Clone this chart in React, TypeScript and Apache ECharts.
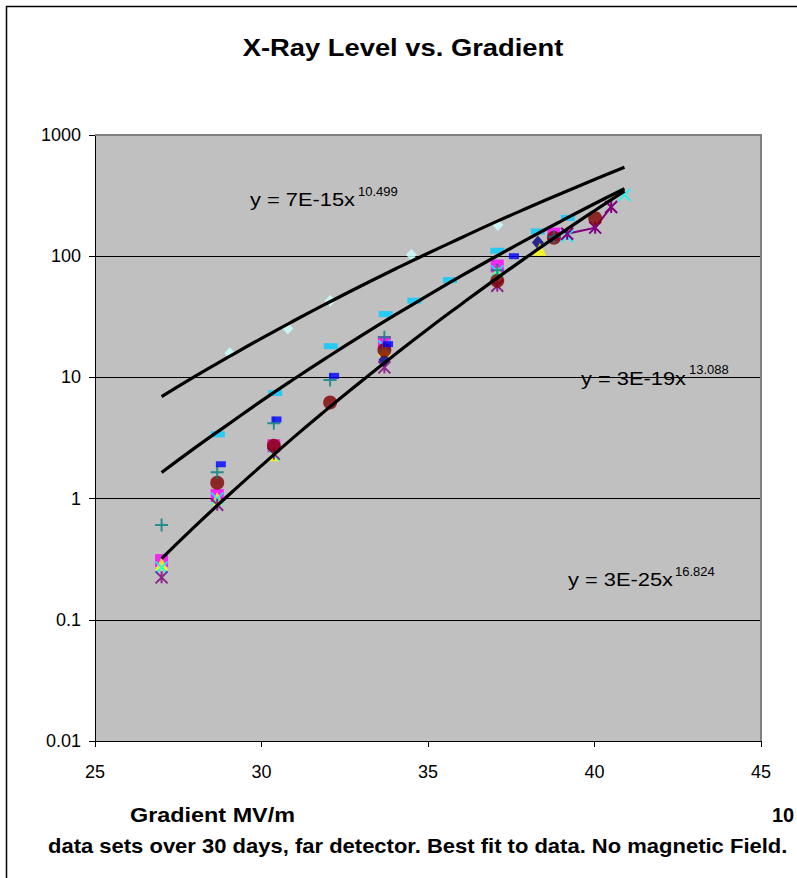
import React, { useEffect, useRef } from "react";
import * as echarts from "echarts";

// ---- data ----
const yTickLabels = ["0.01", "0.1", "1", "10", "100", "1000"];
const xTicks = [25, 30, 35, 40, 45];

// best-fit power-law curves
const fitX = [27, 28, 29, 30, 31, 32, 33, 34, 35, 36, 37, 38, 39, 40, 40.9];
const fitA = [6.94, 10.2, 14.7, 21.0, 29.6, 41.3, 57.1, 78.0, 105.8, 142, 190, 251, 329, 430, 543];
const fitB = [1.64, 2.62, 4.1, 6.4, 9.8, 14.8, 22.1, 32.6, 47.5, 68.7, 98, 139, 195, 271, 360];
const fitC = [0.32, 0.59, 1.06, 1.87, 3.26, 5.55, 9.3, 15.4, 25.1, 40.2, 63.8, 100, 155, 237, 344];

const navyDiamond = [[33.69, 13.9], [38.3, 130]];
const magentaSquare = [[27.0, 0.308], [28.67, 1.06], [30.37, 2.73], [33.69, 19.4], [37.08, 83], [38.78, 152]];
const yellowTriangle = [[27.0, 0.29], [28.67, 1.0], [30.37, 2.3], [33.69, 17], [37.08, 74], [38.36, 114]];
const cyanX = [[27.0, 0.27], [28.67, 1.0], [30.37, 2.3], [33.69, 18], [37.08, 75], [39.18, 147], [40.9, 320]];
const purpleStar = [[27.0, 0.224], [28.67, 0.89], [30.37, 2.35], [33.69, 12.1], [37.08, 57]];
const purpleStarLine = [[39.18, 153], [40.02, 172], [40.5, 255]];
const darkRedCircle = [[28.67, 1.35], [30.37, 2.73], [32.06, 6.2], [33.69, 16.8], [37.08, 62.7], [38.78, 142], [40.02, 206]];
const tealPlus = [[27.0, 0.607], [28.67, 1.65], [30.37, 4.18], [32.06, 9.5], [33.69, 21.4], [37.08, 76.4], [38.78, 145]];
const blueRect = [[28.78, 1.92], [30.45, 4.5], [32.18, 10.3], [33.8, 18.8], [37.58, 100]];
const skyDash = [[28.69, 3.39], [30.41, 7.43], [32.08, 18.1], [33.73, 33.3], [34.59, 42.9], [35.66, 63.5], [37.08, 111], [38.3, 160], [39.2, 207]];
const turqDiamond = [[29.05, 15.8], [30.79, 25.3], [32.06, 42.9], [34.5, 103], [37.1, 181]];

const X_PATH = "path://M0,0L10,10M10,0L0,10";
const STAR_PATH = "path://M0,0L10,10M10,0L0,10M5,0L5,10";
const PLUS_PATH = "path://M5,0L5,10M0,5L10,5";

const FONT = "'Liberation Sans', Arial, sans-serif";

const W = 797;
const H = 878;
const PL = 95, PR = 761, PT = 135, PB = 741;

function scatter(name: string, data: number[][], symbol: string, size: any, color: string, stroke: boolean) {
  return {
    name,
    type: "scatter",
    data,
    symbol,
    symbolSize: size,
    itemStyle: stroke
      ? { color: color, borderColor: color, borderWidth: 2 }
      : { color: color, borderWidth: 0 },
    z: 3,
  };
}

function fitSeries(vals: number[]) {
  return {
    type: "line",
    data: fitX.map((x, i) => [x, vals[i]]),
    smooth: true,
    showSymbol: false,
    symbol: "none",
    lineStyle: { color: "#000", width: 3.2 },
    z: 10,
  };
}

function txt(text: string, x: number, y: number, fontSize: number, bold: boolean, scaleX = 1, align = "left") {
  return {
    type: "text",
    x,
    y,
    scaleX,
    z: 200,
    silent: true,
    style: {
      text,
      fill: "#000",
      font: `${bold ? "bold " : ""}${fontSize}px ${FONT}`,
      align,
      verticalAlign: "middle",
    },
  };
}

export default function App() {
  const ref = useRef<HTMLDivElement>(null);
  useEffect(() => {
    if (!ref.current) return;
    const chart = echarts.init(ref.current, undefined, { renderer: "svg" });
    chart.setOption({
      animation: false,
      backgroundColor: "#fff",
      grid: {
        left: PL,
        right: W - PR,
        top: PT,
        bottom: H - PB,
        show: true,
        backgroundColor: "#C0C0C0",
        borderWidth: 0,
      },
      xAxis: {
        type: "value",
        min: xTicks[0],
        max: xTicks[xTicks.length - 1],
        interval: 5,
        axisLine: { show: true, onZero: false, lineStyle: { color: "#000", width: 1 } },
        axisTick: { show: true, length: 6, lineStyle: { color: "#000" } },
        axisLabel: { color: "#000", fontSize: 18, fontFamily: FONT, margin: 22 },
        splitLine: { show: false },
      },
      yAxis: {
        type: "log",
        logBase: 10,
        min: 0.01,
        max: 1000,
        axisLine: { show: true, lineStyle: { color: "#000", width: 1 } },
        axisTick: { show: true, length: 6, lineStyle: { color: "#000" } },
        axisLabel: {
          color: "#000",
          fontSize: 18,
          fontFamily: FONT,
          margin: 14,
          formatter: (v: number) => yTickLabels[Math.round(Math.log10(v)) + 2],
        },
        splitLine: { show: true, lineStyle: { color: "#000", width: 1 } },
      },
      series: [
        scatter("s1", navyDiamond, "diamond", [12, 14], "#000080", false),
        scatter("s2", magentaSquare, "rect", 13, "#FF00FF", false),
        scatter("s3", yellowTriangle, "triangle", 13, "#FFFF00", false),
        scatter("s4", cyanX, X_PATH, 12, "#00FFFF", true),
        scatter("s5", purpleStar, STAR_PATH, 12, "#800080", true),
        {
          name: "s5b",
          type: "line",
          data: purpleStarLine,
          symbol: STAR_PATH,
          symbolSize: 12,
          showSymbol: true,
          lineStyle: { color: "#800080", width: 2 },
          itemStyle: { color: "#800080", borderColor: "#800080", borderWidth: 2 },
          z: 3,
        },
        scatter("s6", darkRedCircle, "circle", 14, "#800000", false),
        scatter("s7", tealPlus, PLUS_PATH, 13, "#008080", true),
        scatter("s8", blueRect, "rect", [10, 6], "#0000FF", false),
        scatter("s9", skyDash, "rect", [14, 6], "#00CCFF", false),
        scatter("s10", turqDiamond, "diamond", [11, 12], "#CCFFFF", false),
        fitSeries(fitA),
        fitSeries(fitB),
        fitSeries(fitC),
      ],
      graphic: [
        {
          type: "rect",
          silent: true,
          z: -1,
          shape: { x: 6.5, y: 6.5, width: 1200, height: 1200 },
          style: { fill: "none", stroke: "#000", lineWidth: 1.5 },
        },
        {
          type: "polyline",
          silent: true,
          z: 150,
          shape: { points: [[PL, PT], [PR, PT], [PR, PB]] },
          style: { fill: "none", stroke: "#808080", lineWidth: 2 },
        },
        txt("X-Ray Level vs. Gradient", 403, 48, 24, true, 1.14, "center"),
        txt("y = 7E-15x", 250, 199.5, 19, false, 1.15),
        txt("10.499", 358, 191.5, 13, false),
        txt("y = 3E-19x", 581, 378.5, 19, false, 1.15),
        txt("13.088", 689, 369.5, 13, false),
        txt("y = 3E-25x", 568, 579.5, 19, false, 1.15),
        txt("16.824", 675, 571.5, 13, false),
        txt("Gradient MV/m", 130, 815, 20, true, 1.17),
        txt("10", 772, 815, 20, true, 1.0),
        txt("data sets over 30 days, far detector. Best fit to data. No magnetic Field.", 48, 846, 20, true, 1.1),
      ],
    });
    return () => chart.dispose();
  }, []);
  return (
    <div
      ref={ref}
      style={{ position: "absolute", left: 0, top: 0, width: W, height: H }}
    />
  );
}
